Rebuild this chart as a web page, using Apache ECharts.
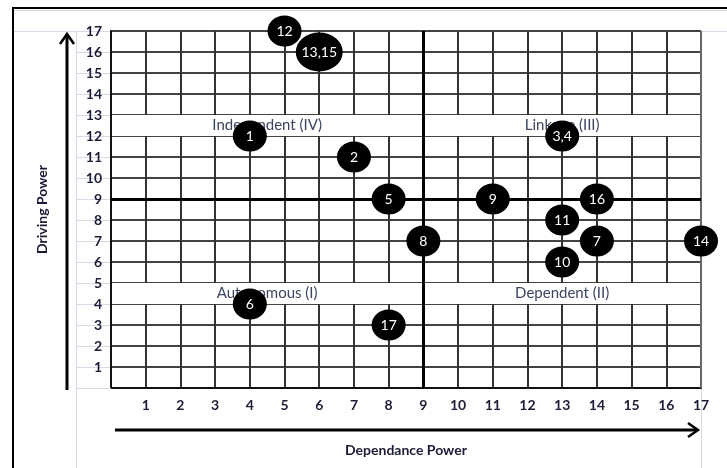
<!DOCTYPE html>
<html>
<head>
<meta charset="utf-8">
<script src="https://cdn.jsdelivr.net/npm/echarts@6/dist/echarts.min.js"></script>
<style>
  html, body { margin: 0; padding: 0; background: #fff; }
  #chart { width: 727px; height: 468px; }
</style>
</head>
<body>
<div id="chart"></div>
<script>
// variable numbers and their (dependence, driving) power
var ids = ['1', '2', '3,4', '5', '6', '7', '8', '9', '10', '11', '12', '13,15', '14', '16', '17'];
var dependence = [4, 7, 13, 8, 4, 14, 9, 11, 13, 13, 5, 6, 17, 14, 8];
var driving = [12, 11, 12, 9, 4, 7, 7, 9, 6, 8, 17, 16, 7, 9, 3];
// quadrant names, left/right halves of the upper and lower bands
var upperBand = ['Independent (IV)', 'Linkage (III)'];
var lowerBand = ['Autonomous (I)', 'Dependent (II)'];
var axisMax = 17;
var midPoint = 9;

var myChart = echarts.init(document.getElementById('chart'));

var points = ids.map(function (id, i) {
    return {
        value: [dependence[i], driving[i]],
        name: id,
        symbolSize: id.indexOf(',') > -1 && id.length > 3 ? [47, 39] : [34, 31]
    };
});

function band(y0, y1, names) {
    return [
        [{ xAxis: 0, yAxis: y0, name: names[0] }, { xAxis: midPoint, yAxis: y1 }],
        [{ xAxis: midPoint, yAxis: y0, name: names[1] }, { xAxis: axisMax, yAxis: y1 }]
    ];
}

var lightLine = '#d5dce8';
var tickColor = '#1c1c38';

var option = {
    backgroundColor: '#fff',
    animation: false,
    textStyle: { fontFamily: 'Lato' },
    grid: { left: 111, right: 26, top: 31, bottom: 80 },
    xAxis: {
        type: 'value',
        min: 0,
        max: axisMax,
        interval: 1,
        name: 'Dependance Power',
        nameLocation: 'middle',
        nameGap: 55,
        nameTextStyle: { fontWeight: 'bold', fontSize: 14, color: tickColor },
        axisLine: { show: true, lineStyle: { color: '#111', width: 2 } },
        axisTick: { show: false },
        axisLabel: {
            margin: 10,
            fontWeight: 'bold',
            fontSize: 14,
            color: tickColor,
            formatter: function (v) { return v === 0 ? '' : v; }
        },
        splitLine: { show: true, lineStyle: { color: '#333', width: 2 } }
    },
    yAxis: {
        type: 'value',
        min: 0,
        max: axisMax,
        interval: 1,
        name: 'Driving Power',
        nameLocation: 'middle',
        nameGap: 62,
        nameTextStyle: { fontWeight: 'bold', fontSize: 14, color: tickColor },
        axisLine: { show: true, lineStyle: { color: '#111', width: 2 } },
        axisTick: { show: true, length: 35, lineStyle: { color: lightLine, width: 1 } },
        axisLabel: {
            margin: 9,
            fontWeight: 'bold',
            fontSize: 14,
            color: tickColor,
            formatter: function (v) { return v === 0 ? '' : v; }
        },
        splitLine: { show: true, lineStyle: { color: '#444', width: 2 } }
    },
    graphic: [
        // chart frame and faint plot area lines
        { type: 'rect', shape: { x: 13, y: 8, width: 740, height: 480 }, style: { fill: 'none', stroke: '#000', lineWidth: 2 }, z: 10 },
        { type: 'line', shape: { x1: 14, y1: 10.5, x2: 727, y2: 10.5 }, style: { stroke: lightLine, lineWidth: 1 } },
        { type: 'line', shape: { x1: 14, y1: 31.5, x2: 111, y2: 31.5 }, style: { stroke: lightLine, lineWidth: 1 } },
        { type: 'line', shape: { x1: 701, y1: 31.5, x2: 727, y2: 31.5 }, style: { stroke: lightLine, lineWidth: 1 } },
        { type: 'line', shape: { x1: 76.5, y1: 31, x2: 76.5, y2: 468 }, style: { stroke: lightLine, lineWidth: 1 } },
        { type: 'line', shape: { x1: 701.5, y1: 388, x2: 701.5, y2: 468 }, style: { stroke: lightLine, lineWidth: 1 } },
        // driving power arrow
        { type: 'line', shape: { x1: 67, y1: 390, x2: 67, y2: 34 }, style: { stroke: '#000', lineWidth: 3 }, z: 10 },
        { type: 'polyline', shape: { points: [[60, 44], [67, 34], [74, 44]] }, style: { stroke: '#000', lineWidth: 2.5, fill: 'none' }, z: 10 },
        // dependance power arrow
        { type: 'line', shape: { x1: 115, y1: 430, x2: 698, y2: 430 }, style: { stroke: '#000', lineWidth: 3 }, z: 10 },
        { type: 'polyline', shape: { points: [[688, 423], [698, 430], [688, 437]] }, style: { stroke: '#000', lineWidth: 2.5, fill: 'none' }, z: 10 }
    ],
    series: [
        {
            // white bands carrying the quadrant names
            type: 'scatter',
            data: [],
            z: 1,
            markArea: {
                silent: true,
                itemStyle: { color: '#fff' },
                label: {
                    show: true,
                    position: 'inside',
                    color: '#3b4560',
                    fontSize: 15,
                    fontFamily: 'Lato'
                },
                data: band(12, 13, upperBand).concat(band(4, 5, lowerBand))
            }
        },
        {
            // edges and the two dividing lines
            type: 'scatter',
            data: [],
            z: 3,
            markLine: {
                silent: true,
                symbol: ['none', 'none'],
                label: { show: false },
                data: [
                    { xAxis: 0, lineStyle: { color: '#111', width: 2, type: 'solid' } },
                    { xAxis: axisMax, lineStyle: { color: '#666', width: 2, type: 'solid' } },
                    { xAxis: midPoint, lineStyle: { color: '#000', width: 3, type: 'solid' } },
                    { yAxis: midPoint, lineStyle: { color: '#000', width: 3, type: 'solid' } }
                ]
            }
        },
        {
            type: 'scatter',
            z: 5,
            data: points,
            itemStyle: { color: '#000', opacity: 1 },
            label: {
                show: true,
                position: 'inside',
                formatter: '{b}',
                color: '#fff',
                fontSize: 14,
                fontFamily: 'Lato'
            }
        }
    ]
};

myChart.setOption(option);
window.addEventListener('resize', function () {
    myChart.resize();
});
</script>
</body>
</html>
